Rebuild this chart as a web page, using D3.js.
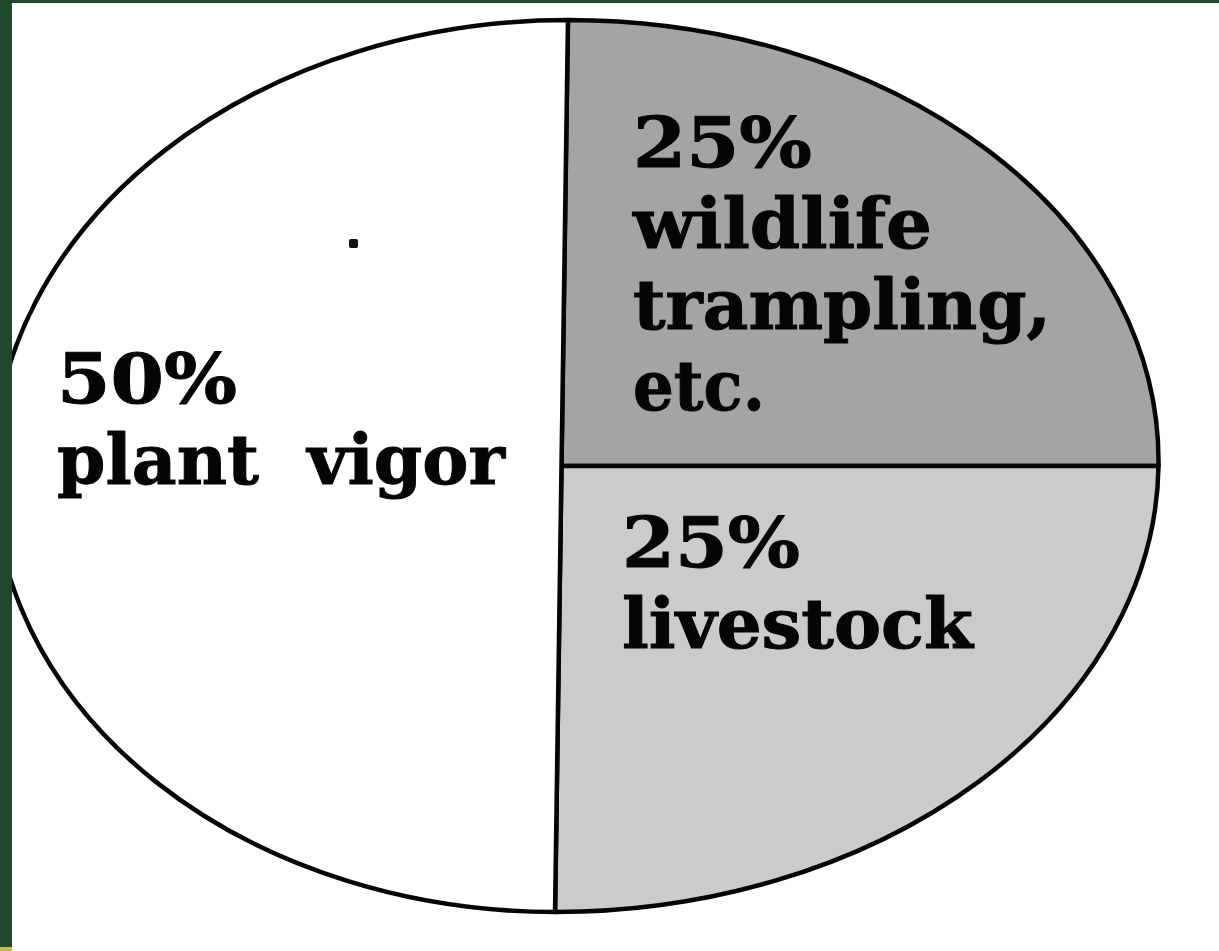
<!DOCTYPE html>
<html>
<head>
<meta charset="utf-8">
<script src="https://cdn.jsdelivr.net/npm/d3@7"></script>
<style>
html, body { margin: 0; padding: 0; background: #fff; }
svg { display: block; }
text { font-family: "DejaVu Serif", serif; font-weight: bold; fill: #050505; stroke: #050505; stroke-width: 1; }
</style>
</head>
<body>
<svg id="chart"></svg>
<script>
var width = 1219;
var height = 951;

// pie data, clockwise from 12 o'clock
var labels = ["wildlife", "livestock", "plant vigor"];
var values = [25, 25, 50];
var labelLines = [
	["25%", "wildlife", "trampling,", "etc."],
	["25%", "livestock"],
	["50%", "plant  vigor"]
];
var fills = ["#a4a4a4", "#cbcbcb", "#ffffff"];

// layout
var cx = 561.5;
var cy = 466;
var R = 100;
var rxRight = 597;
var rxLeft = 568;
var ry = 446;
var fontSize = 70;
var lineGap = 81;
var labelPos = [
	{x: 633, y: 167, w: [179, 299, 418, 132]},
	{x: 622, y: 567, w: [178, 351]},
	{x: 57, y: 403, w: [180, 448]}
];

var svg = d3.select("#chart")
	.attr("width", width)
	.attr("height", height);

svg.append("rect")
	.attr("width", width)
	.attr("height", height)
	.attr("fill", "#fff");

var pie = d3.pie().sort(null).value(function(d) { return d; });
var arc = d3.arc().innerRadius(0).outerRadius(R);
var arcs = pie(values);

var gPie = svg.append("g")
	.attr("transform", "translate(" + cx + "," + cy + ") skewX(-0.83)");

gPie.selectAll("path")
	.data(arcs)
	.enter()
	.append("path")
	.attr("transform", function(d) {
		var sx = d.startAngle >= Math.PI ? rxLeft / R : rxRight / R;
		return "scale(" + sx + "," + (ry / R) + ")";
	})
	.attr("d", arc)
	.attr("fill", function(d, i) { return fills[i]; })
	.attr("stroke", "#050505")
	.attr("stroke-width", 4.5)
	.attr("stroke-linejoin", "round")
	.attr("vector-effect", "non-scaling-stroke");

// stray speck from the scan
svg.append("rect")
	.attr("x", 349)
	.attr("y", 239)
	.attr("width", 9)
	.attr("height", 9)
	.attr("rx", 2)
	.attr("fill", "#111");

var gLabels = svg.append("g");
labelLines.forEach(function(lines, i) {
	var p = labelPos[i];
	var t = gLabels.append("g");
	lines.forEach(function(s, j) {
		t.append("text")
			.attr("x", p.x)
			.attr("y", p.y + j * lineGap)
			.attr("font-size", fontSize)
			.attr("textLength", p.w[j])
			.attr("lengthAdjust", "spacingAndGlyphs")
			.attr("xml:space", "preserve")
			.style("white-space", "pre")
			.text(s);
	});
});

// green page frame
svg.append("rect")
	.attr("x", 0).attr("y", 0)
	.attr("width", 12).attr("height", height)
	.attr("fill", "#1e4a2b");
svg.append("rect")
	.attr("x", 0).attr("y", 0)
	.attr("width", width).attr("height", 3)
	.attr("fill", "#1e4a2b");
svg.append("rect")
	.attr("x", 0).attr("y", 947)
	.attr("width", 12).attr("height", 4)
	.attr("fill", "#c8b85a");
</script>
</body>
</html>
